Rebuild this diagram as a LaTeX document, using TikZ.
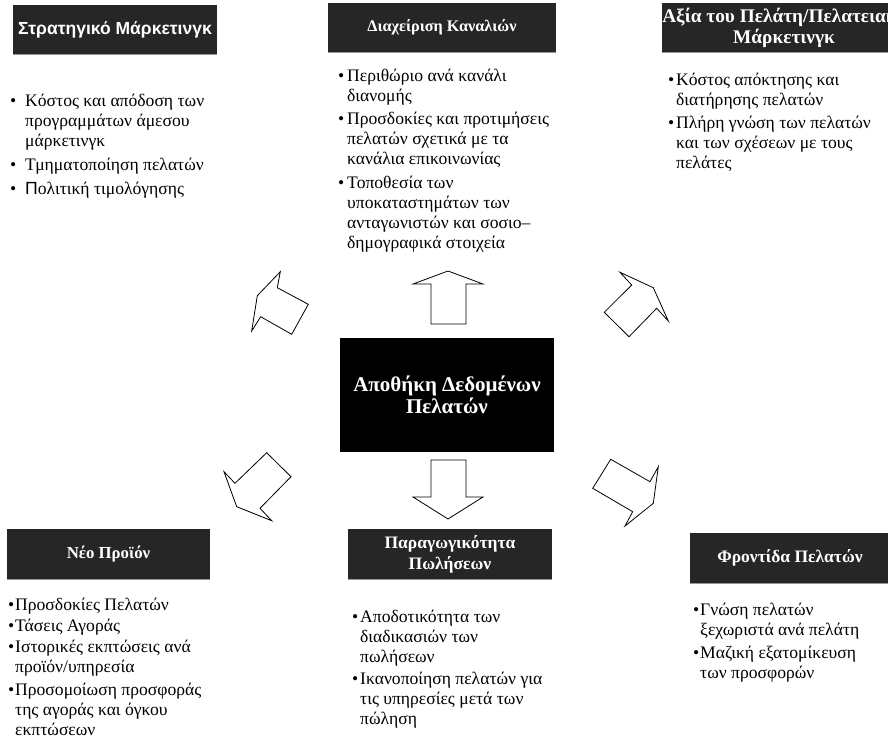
\documentclass[tikz,border=0pt]{standalone}
\usepackage{fontspec}
\setmainfont{Liberation Serif}
\newfontfamily\arialfont{Liberation Sans}
\definecolor{hdr}{RGB}{38,38,38}
\definecolor{hdredge}{RGB}{150,150,150}
\tikzset{
  hdrbox/.style={fill=hdr, text=white, align=center, inner sep=0pt,
    font=\bfseries\fontsize{17.5}{21}\selectfont},
  corebox/.style={fill=black, text=white, align=center, inner sep=0pt,
    font=\bfseries\fontsize{21}{22}\selectfont},
  blist/.style={anchor=base west, inner sep=0pt, font=\fontsize{17.6}{20}\selectfont},
  blockarrow/.style={draw=black, line width=0.8pt, fill=white, line join=miter},
}
\newlength\bw
% bullet line, continuation line, gap between items
\newcommand\bl[1]{\hbox{\makebox[\bw][l]{\textbullet}#1}}
\newcommand\cl[1]{\hbox{\hspace{\bw}#1}}
\newcommand\gp[1]{\vskip#1pt}
\begin{document}
\begin{tikzpicture}[x=1pt,y=-1pt]
\useasboundingbox (0,0) rectangle (888,742);
\clip (0,0) rectangle (888,742);

% central store
\node[corebox, minimum width=214pt, minimum height=114pt] (core) at (447,395)
  {Αποθήκη Δεδομένων\\Πελατών};

% headers
\node[hdrbox, minimum width=204pt, minimum height=49pt,
      font=\arialfont\bfseries\fontsize{17.5}{21}\selectfont] (hStrat) at (115,29.5)
  {Στρατηγικό Μάρκετινγκ};
\node[hdrbox, minimum width=228pt, minimum height=49pt,
      font=\bfseries\fontsize{16.2}{21}\selectfont] (hChan) at (442,27.5)
  {Διαχείριση Καναλιών};
\node[hdrbox, minimum width=244pt, minimum height=49pt,
      font=\bfseries\fontsize{19.3}{21}\selectfont] (hValue) at (784,27.5)
  {Αξία του Πελάτη/Πελατειακό\\Μάρκετινγκ};
\node[hdrbox, minimum width=203pt, minimum height=50pt,
      font=\bfseries\fontsize{16.8}{21}\selectfont] (hProd) at (108.5,554)
  {Νέο Προϊόν};
\node[hdrbox, minimum width=204pt, minimum height=50pt] (hSales) at (450,554)
  {Παραγωγικότητα\\Πωλήσεων};
\node[hdrbox, minimum width=200pt, minimum height=50pt] (hCare) at (790,558)
  {Φροντίδα Πελατών};
\foreach \h in {hStrat,hChan,hValue,hProd,hSales,hCare}
  \draw[hdredge, line width=1pt] (\h.south west) -- (\h.south east);

% bullet lists
\node[blist] (lStrat) at (10,106) {\bw=15pt\vtop{%
  \bl{Κόστος και απόδοση των}
  \cl{προγραμμάτων άμεσου}
  \cl{μάρκετινγκ}\gp{4}
  \bl{Τμηματοποίηση πελατών}\gp{4}
  \bl{{\arialfont Π}ολιτική τιμολόγησης}}};
\node[blist] (lChan) at (338,81) {\bw=9pt\vtop{%
  \bl{Περιθώριο ανά κανάλι}
  \cl{διανομής}\gp{3.5}
  \bl{Προσδοκίες και προτιμήσεις}
  \cl{πελατών σχετικά με τα}
  \cl{κανάλια επικοινωνίας}\gp{3.5}
  \bl{Τοποθεσία των}
  \cl{υποκαταστημάτων των}
  \cl{ανταγωνιστών και σοσιο–}
  \cl{δημογραφικά στοιχεία}}};
\node[blist] (lValue) at (668,85) {\bw=8pt\vtop{%
  \bl{Κόστος απόκτησης και}
  \cl{διατήρησης πελατών}\gp{3}
  \bl{Πλήρη γνώση των πελατών}
  \cl{και των σχέσεων με τους}
  \cl{πελάτες}}};
\node[blist] (lProd) at (8,610) {\bw=7pt\vtop{%
  \bl{Προσδοκίες Πελατών}\gp{1}
  \bl{Τάσεις Αγοράς}\gp{1}
  \bl{Ιστορικές εκπτώσεις ανά}
  \cl{προϊόν/υπηρεσία}\gp{3}
  \bl{Προσομοίωση προσφοράς}
  \cl{της αγοράς και όγκου}
  \cl{εκπτώσεων}}};
\node[blist] (lSales) at (352,622) {\bw=8pt\vtop{%
  \bl{Αποδοτικότητα των}
  \cl{διαδικασιών των}
  \cl{πωλήσεων}\gp{2}
  \bl{Ικανοποίηση πελατών για}
  \cl{τις υπηρεσίες μετά των}
  \cl{πώληση}}};
\node[blist] (lCare) at (693,615) {\bw=7pt\vtop{%
  \bl{Γνώση πελατών}
  \cl{ξεχωριστά ανά πελάτη}\gp{3.5}
  \bl{Μαζική εξατομίκευση}
  \cl{των προσφορών}}};

% block arrows around the store
\draw[blockarrow] (448,271) -- (483,284) -- (466,284) -- (466,324)
  -- (431,324) -- (431,284) -- (413,284) -- cycle;
\draw[blockarrow] (448,519) -- (483,497) -- (466,497) -- (466,460)
  -- (431,460) -- (431,497) -- (413,497) -- cycle;
\draw[blockarrow] (280.3,271.7) -- (277.3,287.7) -- (308.3,304.3) -- (291.7,334.3)
  -- (260.7,316.7) -- (251.7,331) -- (257.3,295.7) -- cycle;
\draw[blockarrow] (620,272.3) -- (631.7,285) -- (604.3,312.3) -- (629,336.7)
  -- (656.7,308.3) -- (668.3,321) -- (653.3,287.7) -- cycle;
\draw[blockarrow] (266.7,452.7) -- (291,476.7) -- (260,508.3) -- (271.7,520.7)
  -- (236.7,506.7) -- (224,471.7) -- (235,483.3) -- cycle;
\draw[blockarrow] (610.7,459.3) -- (650,481.7) -- (658.3,466.7) -- (653.3,503.3)
  -- (625,526) -- (632.7,511.7) -- (592.7,488.3) -- cycle;
\end{tikzpicture}
\end{document}
